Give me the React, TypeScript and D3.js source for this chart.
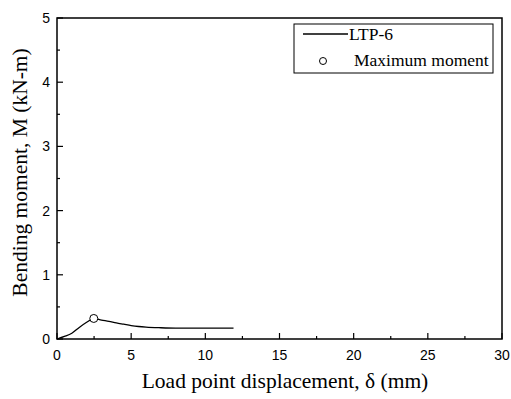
import React from "react";
import * as d3 from "d3";

// Load point displacement (mm) and bending moment (kN-m) for specimen LTP-6
const displacement = [0, 0.5, 1, 1.5, 2, 2.48, 3, 3.5, 4, 4.5, 5, 5.5, 6, 7, 8, 10, 11.9];
const moment = [0, 0.04, 0.09, 0.18, 0.26, 0.32, 0.295, 0.275, 0.25, 0.23, 0.21, 0.195, 0.185, 0.175, 0.17, 0.17, 0.17];

// Maximum moment point
const peakDisplacement = [2.48];
const peakMoment = [0.32];

const xTicks = [0, 5, 10, 15, 20, 25, 30];
const yTicks = [0, 1, 2, 3, 4, 5];
const xMinorTicks = [2.5, 7.5, 12.5, 17.5, 22.5, 27.5];
const yMinorTicks = [0.5, 1.5, 2.5, 3.5, 4.5];

const legendLabels = ["LTP-6", "Maximum moment"];

export default function App() {
  const width = 511;
  const height = 399;
  const left = 57;
  const right = 502;
  const top = 18;
  const bottom = 339;

  const x = d3.scaleLinear().domain([0, 30]).range([left, right]);
  const y = d3.scaleLinear().domain([0, 5]).range([bottom, top]);

  const pts = displacement.map((d, i) => [d, moment[i]] as [number, number]);
  const line = d3
    .line<[number, number]>()
    .x((d) => x(d[0]))
    .y((d) => y(d[1]))
    .curve(d3.curveMonotoneX);

  const tickFont = "'Liberation Sans', Arial, sans-serif";
  const serif = "'Liberation Serif', 'Times New Roman', serif";

  return (
    <svg
      width={width}
      height={height}
      style={{ position: "absolute", left: 0, top: 0, background: "#fff" }}
    >
      {/* frame */}
      <rect
        x={left}
        y={top}
        width={right - left}
        height={bottom - top}
        fill="none"
        stroke="#000"
        strokeWidth={1.5}
      />
      {/* x ticks (inward) */}
      {xTicks.map((t) => (
        <g key={"xt" + t}>
          <line x1={x(t)} x2={x(t)} y1={bottom} y2={bottom - 6} stroke="#000" strokeWidth={1.2} />
          <text
            x={x(t)}
            y={bottom + 21}
            textAnchor="middle"
            fontFamily={tickFont}
            fontSize={14}
            fill="#000"
          >
            {t}
          </text>
        </g>
      ))}
      {xMinorTicks.map((t) => (
        <line key={"xm" + t} x1={x(t)} x2={x(t)} y1={bottom} y2={bottom - 3} stroke="#000" strokeWidth={1.2} />
      ))}
      {/* y ticks (inward) */}
      {yTicks.map((t) => (
        <g key={"yt" + t}>
          <line x1={left} x2={left + 6} y1={y(t)} y2={y(t)} stroke="#000" strokeWidth={1.2} />
          <text
            x={left - 7}
            y={y(t) + 5}
            textAnchor="end"
            fontFamily={tickFont}
            fontSize={14}
            fill="#000"
          >
            {t}
          </text>
        </g>
      ))}
      {yMinorTicks.map((t) => (
        <line key={"ym" + t} x1={left} x2={left + 3} y1={y(t)} y2={y(t)} stroke="#000" strokeWidth={1.2} />
      ))}

      {/* curve */}
      <path d={line(pts) ?? ""} fill="none" stroke="#000" strokeWidth={1.3} />
      {peakDisplacement.map((d, i) => (
        <circle
          key={"pk" + i}
          cx={x(d)}
          cy={y(peakMoment[i])}
          r={4}
          fill="#fff"
          stroke="#000"
          strokeWidth={1}
        />
      ))}

      {/* legend */}
      <rect x={294} y={24} width={199} height={49} fill="#fff" stroke="#000" strokeWidth={1} />
      <line x1={303} x2={348} y1={34} y2={34} stroke="#000" strokeWidth={1.3} />
      <text x={349} y={40} fontFamily={serif} fontSize={17.5} fill="#000">
        {legendLabels[0]}
      </text>
      <circle cx={323} cy={61} r={3.5} fill="#fff" stroke="#000" strokeWidth={1} />
      <text x={354} y={66} fontFamily={serif} fontSize={17.5} fill="#000">
        {legendLabels[1]}
      </text>

      {/* axis titles */}
      <text
        x={285}
        y={388}
        textAnchor="middle"
        fontFamily={serif}
        fontSize={21.5}
        fill="#000"
      >
        Load point displacement, δ (mm)
      </text>
      <text
        transform={`translate(27, 172.5) rotate(-90)`}
        textAnchor="middle"
        fontFamily={serif}
        fontSize={21.5}
        fill="#000"
      >
        Bending moment, M (kN-m)
      </text>
    </svg>
  );
}
